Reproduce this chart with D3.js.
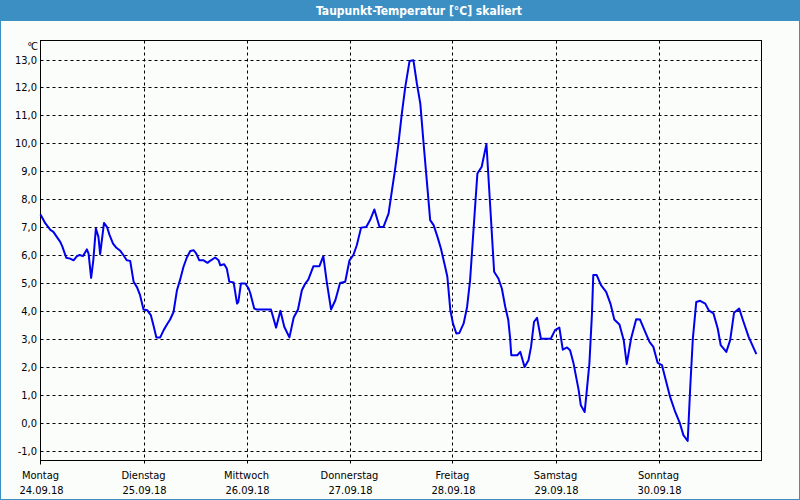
<!DOCTYPE html>
<html><head><meta charset="utf-8">
<script src="https://cdn.jsdelivr.net/npm/d3@7"></script>
<style>
html,body{margin:0;padding:0;background:#fff;}
svg{display:block;}
</style></head>
<body>
<svg id="chart" width="800" height="500"></svg>
<script>
const title = "Taupunkt-Temperatur [°C] skaliert";
const unitLabel = "°C";
const dayNames = ["Montag","Dienstag","Mittwoch","Donnerstag","Freitag","Samstag","Sonntag"];
const dayDates = ["24.09.18","25.09.18","26.09.18","27.09.18","28.09.18","29.09.18","30.09.18"];
const yTicks = [-1,0,1,2,3,4,5,6,7,8,9,10,11,12,13];
// hours since Monday 00:00
const hours = [0,1.1,2.3,3.0,3.8,4.6,5.1,6.0,6.9,7.7,8.5,9.1,9.9,10.8,11.2,11.8,12.3,12.9,13.5,13.9,14.8,15.5,16.1,16.9,17.6,18.6,19.3,20.1,20.9,21.7,22.5,23.2,24.0,24.9,25.7,26.3,27.0,27.9,28.7,29.5,30.2,31.0,31.8,32.5,33.3,34.1,34.9,35.7,36.3,37.0,38.0,38.9,39.7,40.7,41.5,41.9,42.8,43.4,44.0,45.0,45.8,46.1,46.7,47.7,48.5,48.9,49.8,50.4,53.7,54.9,55.9,56.8,58.0,59.0,60.0,60.9,61.7,62.4,63.6,65.0,65.9,66.7,67.7,68.7,69.8,71.0,72.0,72.9,73.7,74.7,75.9,76.8,77.8,79.0,79.9,81.1,81.9,82.6,83.4,84.2,85.0,86.0,86.9,87.7,88.5,89.2,90.0,90.8,91.6,92.5,93.3,94.3,94.8,95.5,96.1,96.9,97.6,98.6,99.4,100.1,101.1,101.8,102.8,103.9,104.0,104.8,105.7,106.7,107.5,108.3,109.0,109.4,109.7,111.1,111.8,112.8,113.7,114.3,115.0,115.7,116.6,118.9,119.9,120.9,121.7,122.7,123.4,124.2,125.4,125.9,126.8,127.3,127.9,128.5,128.8,129.6,130.6,131.8,132.8,133.7,134.9,135.9,136.6,137.6,138.8,139.7,140.9,141.9,142.8,143.8,144.8,145.6,146.7,147.9,149.0,149.8,150.8,151.0,151.4,152.0,152.8,153.7,154.9,155.7,156.8,157.8,158.5,159.8,160.7,161.6,162.8,163.8,165.0,166.8];
const dewpoint = [7.45,7.14,6.9,6.83,6.65,6.47,6.3,5.9,5.87,5.81,5.96,6.0,5.96,6.2,6.05,5.18,5.8,6.95,6.65,6.03,7.15,7.0,6.71,6.41,6.27,6.15,6.0,5.81,5.79,5.04,4.84,4.56,4.05,4.02,3.85,3.49,3.05,3.05,3.31,3.52,3.69,3.96,4.74,5.1,5.57,5.91,6.14,6.17,6.05,5.81,5.81,5.72,5.81,5.91,5.81,5.63,5.67,5.52,5.04,5.02,4.26,4.32,4.98,4.98,4.8,4.62,4.08,4.05,4.05,3.4,4.0,3.43,3.05,3.76,4.05,4.74,4.98,5.12,5.6,5.6,5.96,5.04,4.05,4.38,5.0,5.04,5.81,6.0,6.35,6.98,7.0,7.25,7.63,7.0,7.0,7.48,8.32,9.04,9.99,11.07,12.02,12.95,12.97,12.14,11.42,10.11,8.68,7.25,7.07,6.65,6.23,5.57,5.22,4.02,3.55,3.19,3.21,3.55,4.14,5.1,7.36,8.92,9.16,9.97,9.75,7.72,5.4,5.16,4.8,4.14,3.67,3.07,2.41,2.41,2.53,1.99,2.23,2.71,3.61,3.75,3.0,3.0,3.31,3.4,2.61,2.69,2.59,2.12,1.16,0.62,0.38,1.16,2.12,3.91,5.28,5.28,4.92,4.68,4.26,3.69,3.51,2.95,2.09,3.0,3.7,3.69,3.25,2.89,2.71,2.14,2.06,1.58,0.92,0.38,-0.03,-0.45,-0.66,-0.03,1.28,3.0,4.32,4.36,4.26,4.02,3.91,3.37,2.77,2.53,2.95,3.93,4.08,3.61,3.07,2.45];

const W = 800, H = 500;
const plot = {left: 40.5, right: 761.5, top: 40.5, bottom: 460.5};
const svg = d3.select("#chart");
const font = "Tahoma, 'DejaVu Sans Condensed', 'DejaVu Sans', sans-serif";

// background + frame
svg.append("rect").attr("x",0).attr("y",0).attr("width",W).attr("height",H).attr("fill","#3c8fc3");
svg.append("rect").attr("x",1).attr("y",21).attr("width",W-2).attr("height",H-22).attr("fill","#fbfdfb");
svg.append("text").attr("x",419).attr("y",15).attr("text-anchor","middle")
  .attr("fill","#fff").attr("font-family",font).attr("font-weight","bold").attr("font-size","12px").text(title);

const x = d3.scaleLinear().domain([0, 168]).range([plot.left, plot.right]);
const y = d3.scaleLinear().domain([-1, 13]).range([450.5, 59.5]);

const g = svg.append("g");

// horizontal grid
g.selectAll("line.hg").data(yTicks).join("line")
  .attr("x1", plot.left).attr("x2", plot.right)
  .attr("y1", d => Math.round(y(d)) + 0.5).attr("y2", d => Math.round(y(d)) + 0.5)
  .attr("stroke","#000").attr("stroke-width",1).attr("stroke-dasharray","3,3");
// vertical grid
const dayIdx = d3.range(1, 7);
g.selectAll("line.vg").data(dayIdx).join("line")
  .attr("x1", d => Math.round(x(d*24)) + 0.5).attr("x2", d => Math.round(x(d*24)) + 0.5)
  .attr("y1", plot.top).attr("y2", plot.bottom + 5)
  .attr("stroke","#000").attr("stroke-width",1).attr("stroke-dasharray","3,3");

// frame
g.append("rect").attr("x",plot.left).attr("y",plot.top)
  .attr("width",plot.right-plot.left).attr("height",plot.bottom-plot.top)
  .attr("fill","none").attr("stroke","#000").attr("stroke-width",1);
g.append("line").attr("x1",plot.left).attr("x2",plot.left).attr("y1",plot.bottom).attr("y2",plot.bottom+4).attr("stroke","#000");

// y labels
g.selectAll("text.yl").data(yTicks).join("text")
  .attr("x", 37).attr("y", d => y(d) + 4)
  .attr("text-anchor","end").attr("font-family",font).attr("font-size","11px").attr("fill","#000")
  .text(d => d3.format(".1f")(d).replace(".", ",").replace("−","-"));
g.append("text").attr("x",37).attr("y",50).attr("text-anchor","end")
  .attr("font-family",font).attr("font-size","11px").attr("fill","#000").attr("letter-spacing","-1px").text(unitLabel);

// x labels
const days = d3.range(0, 7);
g.selectAll("text.xd").data(days).join("text")
  .attr("x", d => x(d*24)).attr("y", 479).attr("text-anchor","middle")
  .attr("font-family",font).attr("font-size","11px").attr("fill","#000").text(d => dayNames[d]);
g.selectAll("text.xt").data(days).join("text")
  .attr("x", d => x(d*24) + 1).attr("y", 494).attr("text-anchor","middle")
  .attr("font-family",font).attr("font-size","11px").attr("fill","#000").text(d => dayDates[d]);

// line
const pts = hours.map((h,i) => [h, dewpoint[i]]);
const line = d3.line().x(d => x(d[0])).y(d => y(d[1]));
g.append("path").datum(pts).attr("d", line)
  .attr("fill","none").attr("stroke","#0000ee").attr("stroke-width",2).attr("stroke-linejoin","round");
</script>
</body></html>
